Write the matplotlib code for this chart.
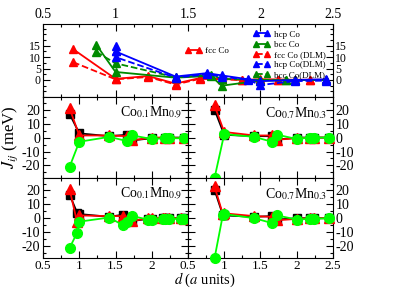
import matplotlib
matplotlib.use("Agg")
import matplotlib.pyplot as plt
from matplotlib.ticker import MultipleLocator, FixedLocator, FuncFormatter
from matplotlib.lines import Line2D

plt.rcParams['font.family'] = 'Liberation Serif'
plt.rcParams['mathtext.fontset'] = 'stix'

# ------------------------------
# top panel: pure Co (d in units of a, J in meV)
# ------------------------------
d_fcc = [0.707, 1.0, 1.225, 1.414, 1.581, 1.732, 1.871, 2.0, 2.121, 2.236, 2.345, 2.449]
fcc_co = [13.5, 0.5, 1.7, -1.6, 0.8, 0.5, 0.0, 0.3, 0.2, 0.1, 0.1, 0.1]
fcc_co_dlm = [7.8, 0.3, 1.3, -2.0, 0.5, 0.3, 0.0, 0.1, 0.1, 0.0, 0.0, 0.0]

d_bcc = [0.866, 1.0, 1.414, 1.658, 1.732, 2.0, 2.179, 2.236, 2.449]
bcc_co = [15.5, 3.5, 1.0, 1.8, -2.5, -0.3, -0.2, 0.0, 0.0]
bcc_co_dlm = [12.3, 7.3, 1.2, 2.3, 0.5, 0.0, 0.0, 0.0, 0.0]

d_hcp = [1.0, 1.0, 1.414, 1.633, 1.732, 1.915, 2.0, 2.236, 2.449]
hcp_co = [14.8, 12.5, 1.5, 3.0, 2.0, 0.3, -0.5, 0.0, 0.3]
hcp_co_dlm = [12.5, 10.0, 1.0, 2.5, 1.5, 0.0, -2.2, -0.5, -0.3]

top_yticks = [0, 5, 10, 15]

# ------------------------------
# alloy panels
# ------------------------------
d_mid = [0.866, 1.0, 1.414, 1.658, 1.732, 2.0, 2.179, 2.236, 2.449]
mid_l_black = [17.0, 3.0, 1.0, 2.0, -2.0, -0.5, 0.0, 0.0, 0.0]
mid_l_red = [21.0, 1.5, 1.5, 1.0, -2.0, 0.0, 0.0, 0.0, -0.5]
mid_l_green = [-21.0, -3.0, 0.5, -2.5, 1.5, -1.0, -0.5, -0.5, -0.5]
mid_r_black = [20.0, 2.0, 1.0, 1.0, -1.5, 0.0, 0.0, 0.0, 0.0]
mid_r_red = [23.0, 4.0, 1.5, 1.5, -1.5, -0.5, 0.0, 0.0, 0.0]
mid_r_green = [-29.0, 2.5, 0.5, -3.0, 2.0, -1.0, 0.0, 0.0, 0.0]

d_bot_l = [0.866, 0.97, 1.0, 1.414, 1.60, 1.658, 1.732, 1.95, 2.0, 2.15, 2.18, 2.236, 2.40, 2.449]
bot_l_black = [17.0, 4.0, 3.0, 1.0, 2.5, 1.0, -2.0, -0.5, -0.5, 0.0, 0.0, 0.0, 0.0, 0.0]
bot_l_red = [21.0, -3.0, 2.0, 1.5, 1.5, -1.0, -2.0, 0.0, 0.0, 0.0, 0.0, 0.0, 0.0, -0.5]
bot_l_green = [-21.5, -10.5, -2.5, 0.5, -5.0, -3.0, 1.5, -1.0, -1.0, -0.5, -0.5, -0.5, -0.5, -0.5]

d_bot_r = [0.866, 0.98, 1.0, 1.414, 1.658, 1.732, 2.0, 2.179, 2.236, 2.449]
bot_r_black = [20.5, 2.5, 2.0, 1.0, 1.5, -1.0, 0.0, 0.0, 0.0, 0.0]
bot_r_red = [23.0, 3.0, 3.5, 1.5, 1.0, -1.5, -0.5, 0.0, 0.0, 0.0]
bot_r_green = [-29.0, 2.0, 3.0, 0.0, -3.5, 2.0, -1.0, -0.5, -0.5, 0.0]

labels = [r'Co$_{0.1}$Mn$_{0.9}$', r'Co$_{0.7}$Mn$_{0.3}$']

RED = '#ff0000'
BLUE = '#0000ff'
DGREEN = '#008b00'
LGREEN = '#00ff00'


def fmt(v, pos):
    return ('%g' % v)


def style_axes(ax, xminor, ymajor, yminor):
    ax.set_xlim(0.5, 2.5)
    ax.xaxis.set_major_locator(MultipleLocator(0.5))
    ax.xaxis.set_minor_locator(MultipleLocator(xminor))
    ax.yaxis.set_major_locator(MultipleLocator(ymajor))
    ax.yaxis.set_minor_locator(MultipleLocator(yminor))
    ax.xaxis.set_major_formatter(FuncFormatter(fmt))
    ax.yaxis.set_major_formatter(FuncFormatter(fmt))
    ax.tick_params(which='both', direction='in', top=True, bottom=True,
                   left=True, right=True, labelsize=10, width=0.8, pad=2)
    ax.tick_params(which='major', length=5)
    ax.tick_params(which='minor', length=2.5)
    for s in ax.spines.values():
        s.set_linewidth(0.8)


fig = plt.figure(figsize=(4.1, 2.89), dpi=100)

L, W = 0.105, 0.707
ax_top = fig.add_axes([L, 0.664, W, 0.253])
ax_ml = fig.add_axes([L, 0.384, W / 2, 0.28])
ax_mr = fig.add_axes([L + W / 2, 0.384, W / 2, 0.28])
ax_bl = fig.add_axes([L, 0.106, W / 2, 0.278])
ax_br = fig.add_axes([L + W / 2, 0.106, W / 2, 0.278])

# top panel
mk = dict(marker='^', markersize=6, lw=1.3, clip_on=False)
ax_top.plot(d_fcc, fcc_co, color=RED, **mk)
ax_top.plot(d_fcc, fcc_co_dlm, color=RED, ls='--', **mk)
ax_top.plot(d_bcc, bcc_co, color=DGREEN, **mk)
ax_top.plot(d_bcc, bcc_co_dlm, color=DGREEN, ls='--', **mk)
ax_top.plot(d_hcp, hcp_co, color=BLUE, **mk)
ax_top.plot(d_hcp, hcp_co_dlm, color=BLUE, ls='--', **mk)
style_axes(ax_top, 0.125, 5, 2.5)
ax_top.yaxis.set_major_locator(FixedLocator(top_yticks))
ax_top.set_ylim(-7.5, 24.5)
ax_top.tick_params(labeltop=True, labelbottom=False, labelright=True)
ax_top.tick_params(axis='y', labelsize=8.5, pad=1.5)

h = lambda c, ls: Line2D([], [], color=c, ls=ls, marker='^', markersize=5, lw=1.3)
leg1 = ax_top.legend([h(RED, '-')], ['fcc Co'], loc='upper left',
                     bbox_to_anchor=(0.47, 0.78), frameon=False, fontsize=6.5,
                     numpoints=2, handlelength=1.8, handletextpad=0.4,
                     borderpad=0.2)
ax_top.add_artist(leg1)
ax_top.legend([h(BLUE, '-'), h(DGREEN, '-'), h(RED, '--'), h(BLUE, '--'), h(DGREEN, '--')],
              ['hcp Co', 'bcc Co', 'fcc Co (DLM)', 'hcp Co(DLM)', 'bcc Co(DLM)'],
              loc='upper left', bbox_to_anchor=(0.705, 1.0), frameon=False,
              fontsize=6.5, numpoints=2, handlelength=1.8, handletextpad=0.4,
              labelspacing=0.2, borderpad=0.2)

# alloy panels
panels = [
    (ax_ml, d_mid, mid_l_black, mid_l_red, mid_l_green, labels[0]),
    (ax_mr, d_mid, mid_r_black, mid_r_red, mid_r_green, labels[1]),
    (ax_bl, d_bot_l, bot_l_black, bot_l_red, bot_l_green, labels[0]),
    (ax_br, d_bot_r, bot_r_black, bot_r_red, bot_r_green, labels[1]),
]
for ax, d, yb, yr, yg, lab in panels:
    ax.plot(d, yb, color='black', marker='s', markersize=5.5, lw=1.3, clip_on=False, zorder=3)
    ax.plot(d, yr, color=RED, marker='^', markersize=6.5, lw=1.3, clip_on=False, zorder=4)
    ax.plot(d, yg, color=LGREEN, marker='o', markersize=7, lw=1.3, clip_on=False, zorder=5)
    style_axes(ax, 0.25, 10, 5)
    ax.set_ylim(-29, 29)
    ax.text(0.96, 0.9, lab, transform=ax.transAxes, ha='right', va='top', fontsize=10)

for ax in (ax_ml, ax_mr):
    ax.tick_params(labelbottom=False)
for ax in (ax_mr, ax_br):
    ax.tick_params(labelleft=False, labelright=True)
ax_bl.set_xticks([0.5, 1.0, 1.5, 2.0])
ax_br.set_xticks([0.5, 1.0, 1.5, 2.0, 2.5])
for ax in (ax_bl, ax_br):
    ax.tick_params(axis='x', pad=1, labelsize=9.5)

ax_ml.set_ylabel(r'$J_{ij}$ (meV)', fontsize=12, labelpad=1)
fig.text(0.5, 0.0, r'$d$ ($a$ units)', ha='center', va='bottom', fontsize=10.5)

fig.savefig('out.png', dpi=100)
